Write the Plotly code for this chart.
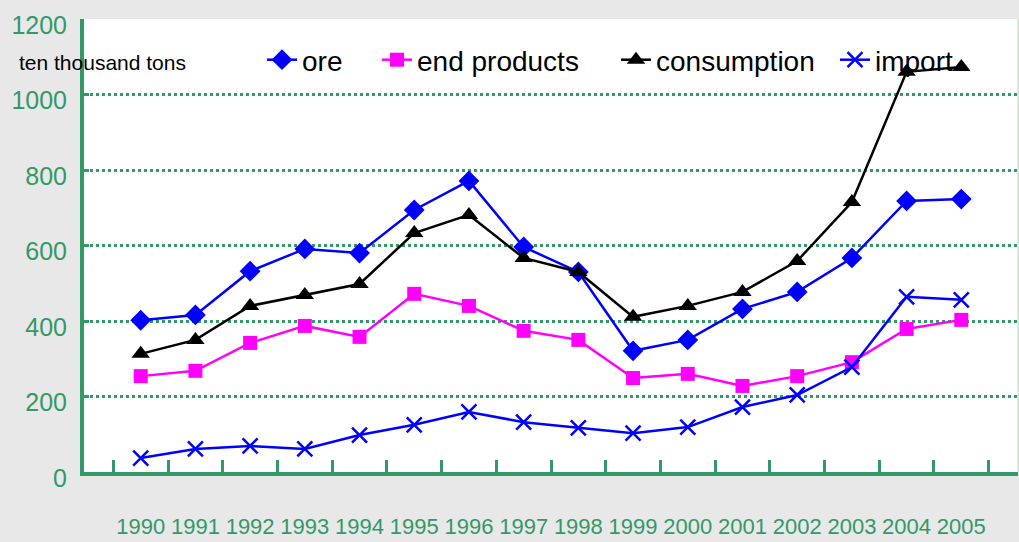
import plotly.graph_objects as go

years = [str(y) for y in range(1990, 2006)]
ore = [402, 416, 532, 591, 580, 694, 771, 596, 530, 321, 350, 432, 477, 567, 718, 723]
end_products = [254, 268, 342, 387, 358, 472, 440, 374, 350, 249, 260, 228, 254, 291, 379, 403]
consumption = [313, 350, 440, 469, 498, 633, 681, 567, 530, 411, 440, 477, 559, 715, 1060, 1073]
imports = [37, 61, 69, 61, 98, 125, 159, 132, 117, 103, 119, 172, 204, 278, 464, 456]
y_ticks = [0, 200, 400, 600, 800, 1000, 1200]

GREEN = "#339966"
FONT = "Liberation Sans, Arial, sans-serif"
L, R, T, B = 84, 1, 19, 70
W, H = 1019, 542
PW, PH = W - L - R, H - T - B

fig = go.Figure()
fig.add_trace(go.Scatter(x=years, y=ore, name="ore", mode="lines+markers", legend="legend",
                         line=dict(color="#0000ff", width=2.5),
                         marker=dict(symbol="diamond", size=16, color="#0000ff")))
fig.add_trace(go.Scatter(x=years, y=end_products, name="end products", mode="lines+markers",
                         legend="legend2",
                         line=dict(color="#ff00ff", width=2.5),
                         marker=dict(symbol="square", size=14, color="#ff00ff")))
fig.add_trace(go.Scatter(x=years, y=consumption, name="consumption", mode="lines+markers",
                         legend="legend3",
                         line=dict(color="#000000", width=2.5),
                         marker=dict(symbol="triangle-up", size=16, color="#000000")))
fig.add_trace(go.Scatter(x=years, y=imports, name="import", mode="lines+markers",
                         legend="legend4",
                         line=dict(color="#0000ff", width=2.5),
                         marker=dict(symbol="x-thin-open", size=15, color="#0000ff",
                                     line=dict(width=2.5, color="#0000ff"))))


def leg(px):
    return dict(orientation="h", x=(px - L) / PW, y=(H - B - 60) / PH,
                xanchor="left", yanchor="middle", bgcolor="rgba(0,0,0,0)",
                font=dict(size=28, family=FONT, color="#000000"))


fig.update_layout(
    width=W, height=H,
    paper_bgcolor="#e8e8e8", plot_bgcolor="#ffffff",
    margin=dict(l=L, r=R, t=T, b=B, autoexpand=False),
    font=dict(family=FONT, color="#000000"),
    showlegend=True,
    legend=leg(262), legend2=leg(377), legend3=leg(616), legend4=leg(835),
)
fig.add_annotation(text="ten thousand tons", xref="paper", yref="paper",
                   x=(17 - L) / PW, y=(H - B - 62) / PH,
                   xanchor="left", yanchor="middle", showarrow=False,
                   font=dict(size=21, family=FONT, color="#000000"))
# light right border of the plot area
fig.add_shape(type="line", xref="paper", yref="paper", x0=1, x1=1, y0=0, y1=1,
              line=dict(color="#b8dcc8", width=1))

fig.update_xaxes(
    type="category", showline=True, linecolor=GREEN, linewidth=4,
    ticks="inside", tickson="boundaries", ticklen=12, tickwidth=3, tickcolor=GREEN,
    showgrid=False, tickfont=dict(size=22, color=GREEN, family=FONT),
    tickangle=0, ticklabelstandoff=32, automargin=False,
)
fig.update_yaxes(
    range=[0, 1200], tickvals=y_ticks, showline=True, linecolor=GREEN, linewidth=4,
    showgrid=True, gridcolor=GREEN, gridwidth=3, griddash="dot",
    ticks="inside", ticklen=5, tickwidth=3, tickcolor=GREEN,
    tickfont=dict(size=25, color=GREEN, family=FONT), zeroline=False,
    ticklabelstandoff=8, ticklabelshift=6, automargin=False,
)

fig.write_html("out.html", config={"displayModeBar": False},
               post_script="document.body.style.margin='0';")
